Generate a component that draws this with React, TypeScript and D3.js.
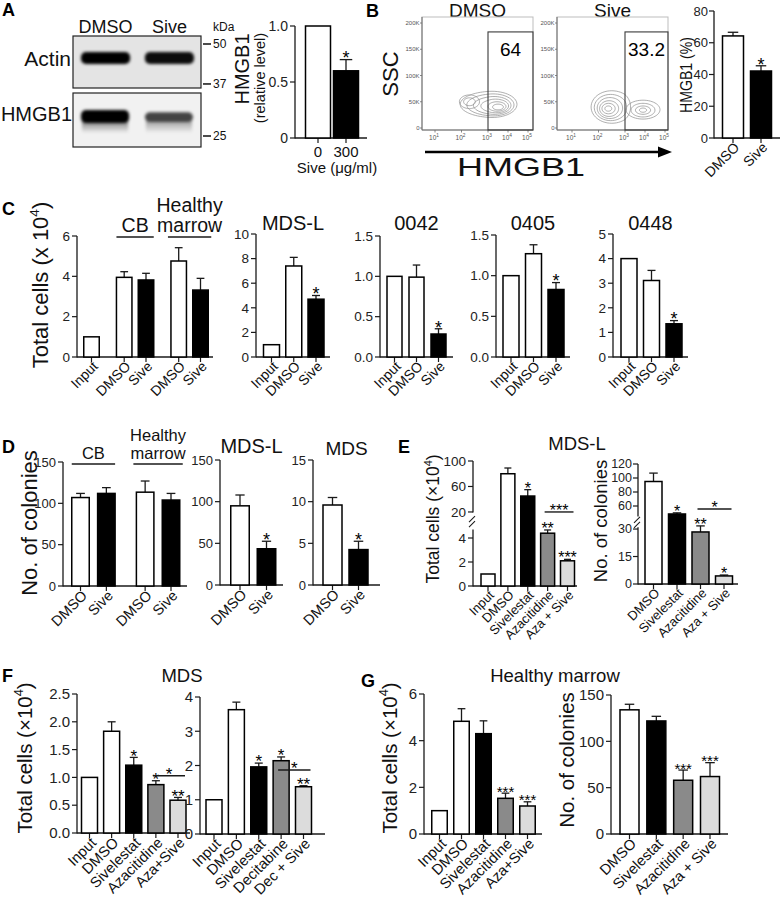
import React from "react";
import * as d3 from "d3";

const FONT = "'Liberation Sans', Arial, Helvetica, sans-serif";
const INK = "#1a1a1a";

// ---------------- Panel A : western blot + quantification ----------------
const blotLanes = ["DMSO", "Sive"];
const actinBand = [1.0, 0.95];
const hmgb1Band = [1.0, 0.72];
const kdaMarkers = [50, 37, 25];
const aCats = ["0", "300"];
const aValues = [1.0, 0.6];
const aErrors = [0, 0.1];
const aStars = ["", "*"];
const aTicks = [0, 0.5, 1.0];
const aTickLabels = ["0", "0.5", "1.0"];

// ---------------- Panel B : flow cytometry + quantification ----------------
const flowTitles = ["DMSO", "Sive"];
const flowGateValues = [64, 33.2];
const flowGateLog = 3;
const flowGateTopK = 183;
const flowYTicks = [0, 50, 100, 150, 200];
const flowXExps = [1, 2, 3, 4, 5];
// contour rings: [log10 HMGB1, SSC (K), radius (decades), radius (K)]
const dmsoRings = [
  [3.2, 45, 1.25, 25], [3.25, 44, 1.05, 21], [3.3, 43, 0.85, 17], [3.38, 42, 0.65, 13],
  [3.45, 41, 0.45, 9], [3.5, 40, 0.27, 5.5], [2.3, 50, 0.38, 13], [2.3, 50, 0.22, 7.5],
];
const siveRings = [
  [2.5, 40, 0.78, 31], [2.46, 39, 0.62, 25], [2.43, 38, 0.48, 20], [2.4, 37, 0.36, 15],
  [2.38, 37, 0.25, 10], [2.37, 37, 0.13, 5], [3.9, 35, 0.85, 18], [3.9, 34, 0.6, 13],
  [3.9, 34, 0.38, 8], [3.9, 34, 0.18, 4],
];
const bCats = ["DMSO", "Sive"];
const bValues = [64.3, 42.2];
const bErrors = [2.3, 3.3];
const bStars = ["", "*"];
const bTicks = [0, 20, 40, 60, 80];

// ---------------- Panel C : total cells ----------------
const cTitles = ["MDS-L", "0042", "0405", "0448"];
const c1Cats = ["Input", "DMSO", "Sive", "DMSO", "Sive"];
const c1Groups = ["", "CB", "CB", "Healthy marrow", "Healthy marrow"];
const c1Values = [1, 3.95, 3.82, 4.76, 3.32];
const c1Errors = [0, 0.28, 0.33, 0.66, 0.58];
const c1Ticks = [0, 2, 4, 6];
const c2Cats = ["Input", "DMSO", "Sive"];
const c2Values = [1, 7.4, 4.7];
const c2Errors = [0, 0.7, 0.3];
const c2Ticks = [0, 2, 4, 6, 8, 10];
const c3Values = [1, 0.99, 0.285];
const c3Errors = [0, 0.15, 0.065];
const c3Ticks = [0, 0.5, 1.0, 1.5];
const c4Values = [1, 1.27, 0.83];
const c4Errors = [0, 0.11, 0.085];
const c4Ticks = [0, 0.5, 1.0, 1.5];
const c5Values = [4.0, 3.11, 1.35];
const c5Errors = [0, 0.41, 0.13];
const c5Ticks = [0, 1, 2, 3, 4, 5];
const cStars = ["", "", "*"];

// ---------------- Panel D : colonies ----------------
const dTitles = ["MDS-L", "MDS"];
const d1Cats = ["DMSO", "Sive", "DMSO", "Sive"];
const d1Groups = ["CB", "CB", "Healthy marrow", "Healthy marrow"];
const d1Values = [107, 112, 113.5, 104];
const d1Errors = [5, 7, 13.5, 8];
const d1Ticks = [0, 50, 100, 150];
const d2Cats = ["DMSO", "Sive"];
const d2Values = [95, 43.5];
const d2Errors = [13, 9];
const d2Ticks = [0, 50, 100, 150];
const d3Values = [9.6, 4.25];
const d3Errors = [0.9, 1.0];
const d3Ticks = [0, 5, 10, 15];
const dStars = ["", "*"];

// ---------------- Panel E : MDS-L combinations ----------------
const eTitle = "MDS-L";
const e1Cats = ["Input", "DMSO", "Sivelestat", "Azacitidine", "Aza + Sive"];
const e1Values = [1, 80, 45, 4.4, 2.1];
const e1Errors = [0, 9, 10, 0.27, 0.12];
const e1Stars = ["", "", "*", "**", "***"];
const e1Ticks = [0, 2, 4, 20, 60, 100];
const e1Bracket = { from: 3, to: 4, level: 20, label: "***" };
const e2Cats = ["DMSO", "Sivelestat", "Azacitidine", "Aza + Sive"];
const e2Values = [95, 48.6, 28.4, 4.4];
const e2Errors = [12, 1.6, 4.3, 0.5];
const e2Stars = ["", "*", "**", "*"];
const e2Ticks = [0, 15, 30, 60, 80, 100, 120];
const e2Bracket = { from: 2, to: 3, level: 55.7, label: "*" };

// ---------------- Panel F : MDS ----------------
const fTitle = "MDS";
const f1Cats = ["Input", "DMSO", "Sivelestat", "Azacitidine", "Aza+Sive"];
const f1Values = [1.0, 1.83, 1.22, 0.87, 0.59];
const f1Errors = [0, 0.17, 0.14, 0.07, 0.05];
const f1Ticks = [0, 0.5, 1.0, 1.5, 2.0, 2.5];
const f1Bracket = { from: 3, to: 4, level: 1.03, label: "*" };
const f2Cats = ["Input", "DMSO", "Sivelestat", "Decitabine", "Dec + Sive"];
const f2Values = [1.0, 3.63, 1.96, 2.14, 1.38];
const f2Errors = [0, 0.22, 0.11, 0.11, 0.03];
const f2Ticks = [0, 1, 2, 3, 4];
const f2Bracket = { from: 3, to: 4, level: 1.87, label: "*" };
const fStars = ["", "", "*", "*", "**"];

// ---------------- Panel G : healthy marrow ----------------
const gTitle = "Healthy marrow";
const g1Cats = ["Input", "DMSO", "Sivelestat", "Azacitidine", "Aza+Sive"];
const g1Values = [1.0, 4.83, 4.3, 1.53, 1.2];
const g1Errors = [0, 0.54, 0.55, 0.22, 0.18];
const g1Stars = ["", "", "", "***", "***"];
const g1Ticks = [0, 2, 4, 6];
const g2Cats = ["DMSO", "Sivelestat", "Azacitidine", "Aza + Sive"];
const g2Values = [134, 122, 58, 62];
const g2Errors = [6, 5, 11, 15];
const g2Stars = ["", "", "***", "***"];
const g2Ticks = [0, 50, 100, 150];

// ---------------- helpers ----------------
const COLORS = { ctrl: "#ffffff", sive: "#000000", hma: "#8a8a8a", combo: "#dcdcdc" };
function fillFor(cat: string) {
  if (cat.includes("+")) return COLORS.combo;
  if (/Azacitidine|Decitabine/.test(cat)) return COLORS.hma;
  if (/^Sive|^300$/.test(cat)) return COLORS.sive;
  return COLORS.ctrl;
}

type Layout = {
  axisX: number; endX: number; firstC: number; lastC: number; barW: number;
  tickFs: number; labelFs: number; starFs: number; gapExtra?: number; rotate?: boolean;
  groupFs?: number; groupLine?: number; groupLH?: number; tickGap?: number;
};

function BarChart(p: {
  cats: string[]; values: number[]; errors: number[]; stars?: string[];
  ticks: number[]; tickLabels?: string[]; fmt?: string;
  yDomain: number[]; yRange: number[]; L: Layout; groups?: string[];
  bracket?: { from: number; to: number; level: number; label: string };
}) {
  const L = p.L;
  const y = d3.scaleLinear().domain(p.yDomain).range(p.yRange);
  const yBot = p.yRange[0];
  const segs = p.yDomain.length === 4
    ? [[p.yRange[0], p.yRange[1]], [p.yRange[2], p.yRange[3]]]
    : [[p.yRange[0], p.yRange[1]]];
  const slots: number[] = [];
  let s = 0;
  p.cats.forEach((_, i) => {
    if (i > 0) {
      s += 1;
      if (p.groups && p.groups[i] !== p.groups[i - 1]) s += L.gapExtra ?? 0;
    }
    slots.push(s);
  });
  const x = d3.scaleLinear().domain([0, s]).range([L.firstC, L.lastC]);
  const f = d3.format(p.fmt ?? "d");
  const w = L.barW;
  const capW = w * 0.5;
  const tg = L.tickGap ?? 7;

  const groupSpans: { name: string; a: number; b: number }[] = [];
  if (p.groups) {
    p.groups.forEach((g, i) => {
      if (!g) return;
      const last = groupSpans[groupSpans.length - 1];
      if (last && last.name === g) last.b = i;
      else groupSpans.push({ name: g, a: i, b: i });
    });
  }

  return (
    <g>
      {segs.map((sg, i) => (
        <line key={"s" + i} x1={L.axisX} x2={L.axisX} y1={sg[0] + (i === 0 ? 0.6 : 0)} y2={sg[1]} stroke={INK} strokeWidth={1.3} />
      ))}
      {segs.length === 2 && (() => {
        const m = (segs[0][1] + segs[1][0]) / 2;
        return (
          <g stroke={INK} strokeWidth={1.1}>
            <line x1={L.axisX - 4} y1={m + 1} x2={L.axisX + 2} y2={m - 5} />
            <line x1={L.axisX - 4} y1={m + 6} x2={L.axisX + 2} y2={m} />
          </g>
        );
      })()}
      {p.ticks.map((t, i) => (
        <g key={"t" + i}>
          <line x1={L.axisX - 5} x2={L.axisX} y1={y(t)} y2={y(t)} stroke={INK} strokeWidth={1.2} />
          <text x={L.axisX - tg} y={y(t)} dy="0.35em" textAnchor="end" fontSize={L.tickFs} fill="#222">
            {p.tickLabels ? p.tickLabels[i] : f(t)}
          </text>
        </g>
      ))}
      <line x1={L.axisX} x2={L.endX} y1={yBot} y2={yBot} stroke={INK} strokeWidth={1.3} />
      {p.cats.map((c, i) => {
        const cx = x(slots[i]);
        const v = p.values[i];
        const e = p.errors[i];
        const top = y(v);
        const cap = y(v + e);
        return (
          <g key={"b" + i}>
            <line x1={cx} x2={cx} y1={yBot} y2={yBot + 5} stroke={INK} strokeWidth={1.2} />
            {e > 0 && (
              <g stroke={INK} strokeWidth={1.3}>
                <line x1={cx} x2={cx} y1={top} y2={cap} />
                <line x1={cx - capW / 2} x2={cx + capW / 2} y1={cap} y2={cap} />
              </g>
            )}
            <rect x={cx - w / 2} y={top} width={w} height={yBot - top} fill={fillFor(c)} stroke="#000" strokeWidth={1.5} />
            {p.stars && p.stars[i] && (
              <text x={cx} y={cap - 3 + 0.43 * L.starFs} textAnchor="middle" fontSize={L.starFs} fill="#000">
                {p.stars[i]}
              </text>
            )}
            {L.rotate === false ? (
              <text x={cx} y={yBot + 19} textAnchor="middle" fontSize={L.labelFs} fill="#111">{c}</text>
            ) : (
              <text transform={`translate(${cx + 0.45 * L.labelFs + 1},${yBot + 4 + 0.45 * L.labelFs}) rotate(-45)`}
                textAnchor="end" fontSize={L.labelFs} fill="#111">{c}</text>
            )}
          </g>
        );
      })}
      {groupSpans.map((g, i) => {
        const x1 = x(slots[g.a]) - w / 2 - (i === 0 ? 0 : 3);
        const x2 = x(slots[g.b]) + w / 2 + (i === 0 ? 0 : 3);
        const words = g.name.split(" ");
        const ly = L.groupLine ?? 0;
        const lh = L.groupLH ?? 20;
        return (
          <g key={"g" + i}>
            <line x1={x1} x2={x2} y1={ly} y2={ly} stroke={INK} strokeWidth={1.4} />
            {words.map((wd, k) => (
              <text key={k} x={(x1 + x2) / 2} y={ly - 5 - (words.length - 1 - k) * lh} textAnchor="middle"
                fontSize={L.groupFs} fill="#111">{wd}</text>
            ))}
          </g>
        );
      })}
      {p.bracket && (() => {
        const b = p.bracket;
        const by = y(b.level);
        const x1 = x(slots[b.from]) - 3;
        const x2 = x(slots[b.to]) + w / 2 - 1;
        return (
          <g>
            <line x1={x1} x2={x2} y1={by} y2={by} stroke={INK} strokeWidth={1.4} />
            <text x={(x1 + x2) / 2} y={by - 3 + 0.43 * L.starFs} textAnchor="middle" fontSize={L.starFs}>{b.label}</text>
          </g>
        );
      })()}
    </g>
  );
}

function YTitle(p: { x: number; y: number; fs: number; text: string; sup?: string; len?: number }) {
  return (
    <text transform={`translate(${p.x},${p.y}) rotate(-90)`} textAnchor="middle" fontSize={p.fs} fill="#111"
      {...(p.len ? { textLength: p.len, lengthAdjust: "spacingAndGlyphs" } : {})}>
      {p.text}
      {p.sup && (
        <>
          <tspan fontSize={p.fs * 0.62} dy={-p.fs * 0.42}>{p.sup}</tspan>
          <tspan dy={p.fs * 0.42}>)</tspan>
        </>
      )}
    </text>
  );
}

function Letter(p: { x: number; y: number; t: string }) {
  return <text x={p.x} y={p.y} fontSize={18} fontWeight="bold" fill="#000">{p.t}</text>;
}

function Title(p: { x: number; y: number; fs: number; t: string }) {
  return <text x={p.x} y={p.y} fontSize={p.fs} textAnchor="middle" fill="#111">{p.t}</text>;
}

function FlowPlot(p: { x0: number; x1: number; px: number[]; title: string; gate: number; rings: number[][] }) {
  const y = d3.scaleLinear().domain([0, 200]).range([128, 23]);
  const x = d3.scaleLinear().domain([1, 3, 5]).range(p.px);
  const top = 17, bot = 130;
  const line = d3.line().curve(d3.curveCardinalClosed.tension(0.2));
  const N = 28;
  return (
    <g>
      <text x={(p.x0 + p.x1) / 2} y={17} fontSize={19} textAnchor="middle" fill="#111">{p.title}</text>
      <rect x={p.x0} y={top} width={p.x1 - p.x0} height={bot - top} fill="none" stroke="#bdbdbd" strokeWidth={1} />
      <line x1={p.x0} x2={p.x0} y1={top} y2={bot} stroke="#6a6a6a" strokeWidth={1} />
      <line x1={p.x0} x2={p.x1} y1={bot} y2={bot} stroke="#6a6a6a" strokeWidth={1} />
      {flowYTicks.map((t) => (
        <g key={t}>
          <line x1={p.x0 - 2} x2={p.x0} y1={y(t)} y2={y(t)} stroke="#6a6a6a" strokeWidth={0.8} />
          <text x={p.x0 - 2.5} y={y(t) + 2} fontSize={6} textAnchor="end" fill="#555">{t === 0 ? "0" : t + "K"}</text>
        </g>
      ))}
      {flowXExps.map((e) => (
        <g key={e}>
          <line x1={x(e)} x2={x(e)} y1={bot} y2={bot + 2.5} stroke="#6a6a6a" strokeWidth={0.8} />
          <text x={x(e) - 1} y={140} fontSize={6.5} textAnchor="middle" fill="#555">
            10<tspan fontSize={4.8} dy={-3}>{e}</tspan>
          </text>
        </g>
      ))}
      {p.rings.map((r, i) => {
        const pts: [number, number][] = d3.range(N).map((k) => {
          const a = (k / N) * Math.PI * 2;
          return [x(r[0] + r[2] * Math.cos(a)), y(r[1] + r[3] * Math.sin(a))];
        });
        return <path key={i} d={line(pts) ?? ""} fill="none" stroke="#8c8c8c" strokeWidth={0.7} />;
      })}
      <rect x={x(flowGateLog)} y={y(flowGateTopK)} width={p.x1 - x(flowGateLog)} height={bot - y(flowGateTopK)}
        fill="none" stroke="#3a3a3a" strokeWidth={1.1} />
      <text x={(x(flowGateLog) + p.x1) / 2} y={56} fontSize={19} textAnchor="middle" fill="#000">{p.gate}</text>
    </g>
  );
}

function Blot() {
  const lanes = d3.scaleBand().domain(blotLanes).range([80, 195]).paddingInner(0.2);
  const kda = d3.scaleLog().domain([50, 25]).range([44, 136]);
  const bw = lanes.bandwidth();
  return (
    <g>
      <defs>
        <filter id="bb" x="-30%" y="-80%" width="160%" height="260%">
          <feGaussianBlur stdDeviation="1.8" />
        </filter>
        <linearGradient id="smear" x1="0" x2="0" y1="0" y2="1">
          <stop offset="0" stopColor="#000" stopOpacity="0.55" />
          <stop offset="1" stopColor="#000" stopOpacity="0" />
        </linearGradient>
      </defs>
      {blotLanes.map((l) => (
        <text key={l} x={(lanes(l) ?? 0) + bw / 2} y={33} fontSize={18} textAnchor="middle" fill="#111">{l}</text>
      ))}
      <rect x={73} y={36} width={128} height={52} fill="#e4e4e4" stroke="#222" strokeWidth={1.2} />
      <rect x={73} y={93} width={128} height={54} fill="#f1f1f1" stroke="#222" strokeWidth={1.2} />
      <g filter="url(#bb)">
        {blotLanes.map((l, i) => (
          <rect key={"a" + l} x={(lanes(l) ?? 0) + 1} y={52} width={bw - 2} height={12} rx={5}
            fill="#000" opacity={actinBand[i]} />
        ))}
        {blotLanes.map((l, i) => (
          <g key={"h" + l} opacity={hmgb1Band[i]}>
            <rect x={(lanes(l) ?? 0) + 1} y={110 + (1 - hmgb1Band[i]) * 8} width={bw - 3}
              height={13 - (1 - hmgb1Band[i]) * 12} rx={5} fill="#000" />
            <rect x={(lanes(l) ?? 0) + 2} y={119} width={bw - 5} height={14} fill="url(#smear)" />
          </g>
        ))}
      </g>
      <text x={71} y={66} fontSize={21} textAnchor="end" fill="#111">Actin</text>
      <text x={72} y={121} fontSize={20} textAnchor="end" fill="#111">HMGB1</text>
      <text x={213} y={31} fontSize={12} fill="#111">kDa</text>
      {kdaMarkers.map((k) => (
        <g key={k}>
          <line x1={203} x2={211} y1={kda(k)} y2={kda(k)} stroke="#111" strokeWidth={1.5} />
          <text x={213} y={kda(k) + 4} fontSize={12} fill="#111">{k}</text>
        </g>
      ))}
    </g>
  );
}

export default function App() {
  return (
    <svg width={781} height={900} style={{ position: "absolute", left: 0, top: 0, background: "#fff" }}
      fontFamily={FONT}>
      <rect width={781} height={900} fill="#fff" />

      {/* ---------------- A ---------------- */}
      <Letter x={2} y={16} t="A" />
      <Blot />
      <YTitle x={249} y={69} fs={20} text="HMGB1" />
      <YTitle x={265} y={78} fs={14.5} text="(relative level)" />
      <BarChart cats={aCats} values={aValues} errors={aErrors} stars={aStars} ticks={aTicks} tickLabels={aTickLabels}
        yDomain={[0, 1]} yRange={[138, 26]}
        L={{ axisX: 295, endX: 367, firstC: 318, lastC: 346, barW: 25, tickFs: 14, labelFs: 15, starFs: 18, rotate: false }} />
      <text x={337} y={173} fontSize={15} textAnchor="middle" fill="#111">Sive (μg/ml)</text>

      {/* ---------------- B ---------------- */}
      <Letter x={366} y={17} t="B" />
      <FlowPlot x0={422} x1={533} px={[435, 488, 528]} title={flowTitles[0]} gate={flowGateValues[0]} rings={dmsoRings} />
      <FlowPlot x0={557} x1={668} px={[572, 625, 665]} title={flowTitles[1]} gate={flowGateValues[1]} rings={siveRings} />
      <YTitle x={398} y={74} fs={22} text="SSC" />
      <line x1={425} x2={660} y1={152} y2={152} stroke="#000" strokeWidth={2.6} />
      <path d="M658,146.5 L672,152 L658,157.5 Z" fill="#000" />
      <text x={521} y={176} fontSize={25} textAnchor="middle" textLength={128} lengthAdjust="spacingAndGlyphs" fill="#111">HMGB1</text>
      <YTitle x={692} y={75} fs={17} text="HMGB1 (%)" len={76} />
      <BarChart cats={bCats} values={bValues} errors={bErrors} stars={bStars} ticks={bTicks}
        yDomain={[0, 80]} yRange={[138, 11]}
        L={{ axisX: 714, endX: 780, firstC: 733, lastC: 761, barW: 21, tickFs: 13, labelFs: 14, starFs: 18, tickGap: 6 }} />

      {/* ---------------- C ---------------- */}
      <Letter x={2} y={215} t="C" />
      <YTitle x={48} y={285} fs={22} text="Total cells (x 10" sup="4" />
      <BarChart cats={c1Cats} values={c1Values} errors={c1Errors} ticks={c1Ticks} groups={c1Groups}
        yDomain={[0, 6]} yRange={[357, 236]}
        L={{ axisX: 77, endX: 213, firstC: 91.5, lastC: 200.5, barW: 15.5, tickFs: 13.5, labelFs: 14, starFs: 18,
          gapExtra: 0.5, groupFs: 19.5, groupLine: 237, groupLH: 20 }} />
      <Title x={293} y={230} fs={20} t={cTitles[0]} />
      <BarChart cats={c2Cats} values={c2Values} errors={c2Errors} stars={cStars} ticks={c2Ticks}
        yDomain={[0, 10]} yRange={[357, 234]}
        L={{ axisX: 256, endX: 330, firstC: 271.5, lastC: 316, barW: 16, tickFs: 13.5, labelFs: 14, starFs: 18 }} />
      <Title x={416.5} y={230} fs={20} t={cTitles[1]} />
      <BarChart cats={c2Cats} values={c3Values} errors={c3Errors} stars={cStars} ticks={c3Ticks} fmt=".1f"
        yDomain={[0, 1.5]} yRange={[357, 236]}
        L={{ axisX: 380, endX: 453, firstC: 394.5, lastC: 438.5, barW: 15, tickFs: 13.5, labelFs: 14, starFs: 18 }} />
      <Title x={533} y={230} fs={20} t={cTitles[2]} />
      <BarChart cats={c2Cats} values={c4Values} errors={c4Errors} stars={cStars} ticks={c4Ticks} fmt=".1f"
        yDomain={[0, 1.5]} yRange={[357, 235]}
        L={{ axisX: 496, endX: 570, firstC: 511, lastC: 556, barW: 16, tickFs: 13.5, labelFs: 14, starFs: 18 }} />
      <Title x={650.5} y={230} fs={20} t={cTitles[3]} />
      <BarChart cats={c2Cats} values={c5Values} errors={c5Errors} stars={cStars} ticks={c5Ticks}
        yDomain={[0, 5]} yRange={[357, 234]}
        L={{ axisX: 613, endX: 688, firstC: 629, lastC: 674, barW: 16, tickFs: 13.5, labelFs: 14, starFs: 18 }} />

      {/* ---------------- D ---------------- */}
      <Letter x={2} y={453} t="D" />
      <YTitle x={37} y={523} fs={22} text="No. of colonies" />
      <BarChart cats={d1Cats} values={d1Values} errors={d1Errors} ticks={d1Ticks} groups={d1Groups}
        yDomain={[0, 150]} yRange={[586, 462]}
        L={{ axisX: 63, endX: 187, firstC: 80.5, lastC: 171, barW: 17.5, tickFs: 13, labelFs: 14.5, starFs: 18,
          gapExtra: 0.5, groupFs: 16.5, groupLine: 464, groupLH: 18.5 }} />
      <Title x={251.5} y={453} fs={20} t={dTitles[0]} />
      <BarChart cats={d2Cats} values={d2Values} errors={d2Errors} stars={dStars} ticks={d2Ticks}
        yDomain={[0, 150]} yRange={[585, 460]}
        L={{ axisX: 220, endX: 283, firstC: 240, lastC: 266.5, barW: 18.5, tickFs: 13, labelFs: 14.5, starFs: 18 }} />
      <Title x={346.5} y={455} fs={19} t={dTitles[1]} />
      <BarChart cats={d2Cats} values={d3Values} errors={d3Errors} stars={dStars} ticks={d3Ticks}
        yDomain={[0, 15]} yRange={[585, 460]}
        L={{ axisX: 313, endX: 380, firstC: 332.5, lastC: 358.5, barW: 19, tickFs: 13, labelFs: 14.5, starFs: 18 }} />

      {/* ---------------- E ---------------- */}
      <Letter x={398} y={453} t="E" />
      <Title x={577} y={450} fs={18.5} t={eTitle} />
      <YTitle x={439} y={519} fs={17.5} text="Total cells (×10" sup="4" />
      <BarChart cats={e1Cats} values={e1Values} errors={e1Errors} stars={e1Stars} ticks={e1Ticks} bracket={e1Bracket}
        yDomain={[0, 4.7, 19, 100]} yRange={[586, 529.6, 512.6, 461]}
        L={{ axisX: 473, endX: 577, firstC: 488, lastC: 567.5, barW: 14, tickFs: 13.5, labelFs: 13, starFs: 16 }} />
      <YTitle x={607} y={521} fs={18.5} text="No. of colonies" />
      <BarChart cats={e2Cats} values={e2Values} errors={e2Errors} stars={e2Stars} ticks={e2Ticks} bracket={e2Bracket}
        yDomain={[0, 31, 45, 120]} yRange={[584, 527.2, 516.5, 464]}
        L={{ axisX: 638, endX: 738, firstC: 653.5, lastC: 724, barW: 17, tickFs: 12.5, labelFs: 13, starFs: 16, tickGap: 6 }} />

      {/* ---------------- F ---------------- */}
      <Letter x={2} y={682} t="F" />
      <Title x={182} y={682} fs={18.5} t={fTitle} />
      <YTitle x={32} y={758} fs={20.5} text="Total cells (×10" sup="4" />
      <BarChart cats={f1Cats} values={f1Values} errors={f1Errors} stars={fStars} ticks={f1Ticks} fmt=".1f" bracket={f1Bracket}
        yDomain={[0, 2.5]} yRange={[833, 694]}
        L={{ axisX: 77, endX: 190, firstC: 89.5, lastC: 178, barW: 16, tickFs: 15, labelFs: 14.8, starFs: 17 }} />
      <BarChart cats={f2Cats} values={f2Values} errors={f2Errors} stars={fStars} ticks={f2Ticks} bracket={f2Bracket}
        yDomain={[0, 4]} yRange={[834, 697]}
        L={{ axisX: 200, endX: 325, firstC: 214, lastC: 303.5, barW: 16, tickFs: 15, labelFs: 14.8, starFs: 17 }} />

      {/* ---------------- G ---------------- */}
      <Letter x={361} y={687} t="G" />
      <Title x={555} y={682} fs={18.5} t={gTitle} />
      <YTitle x={397} y={758} fs={20.5} text="Total cells (×10" sup="4" />
      <BarChart cats={g1Cats} values={g1Values} errors={g1Errors} stars={g1Stars} ticks={g1Ticks}
        yDomain={[0, 6]} yRange={[834, 694]}
        L={{ axisX: 424, endX: 542, firstC: 439.5, lastC: 527.5, barW: 15.5, tickFs: 15, labelFs: 14.8, starFs: 15 }} />
      <YTitle x={574} y={760} fs={20.5} text="No. of colonies" />
      <BarChart cats={g2Cats} values={g2Values} errors={g2Errors} stars={g2Stars} ticks={g2Ticks}
        yDomain={[0, 150]} yRange={[834, 695]}
        L={{ axisX: 611, endX: 728, firstC: 629.5, lastC: 710, barW: 19, tickFs: 15, labelFs: 14.8, starFs: 15 }} />
    </svg>
  );
}
